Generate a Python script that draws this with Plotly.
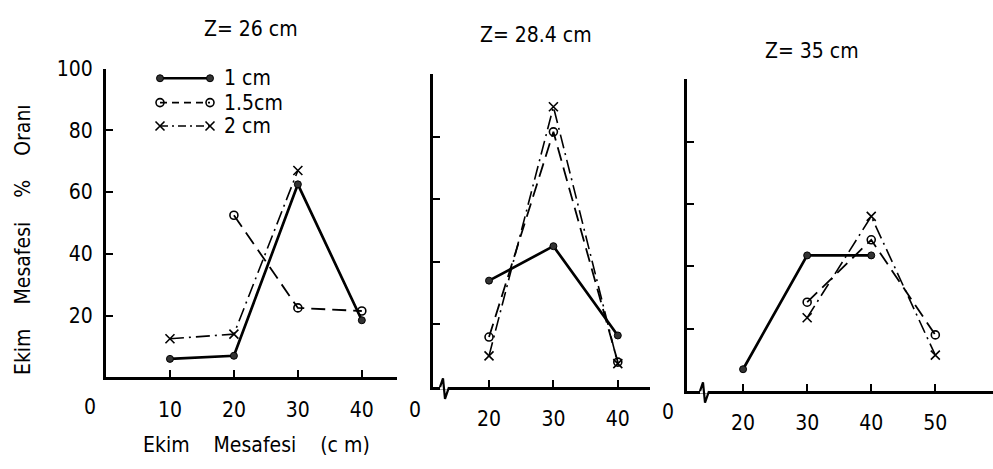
import plotly.graph_objects as go

FONT = "DejaVu Sans Condensed, DejaVu Sans, sans-serif"
W, H = 993, 469
FS = 21

titles = ["Z= 26 cm", "Z= 28.4 cm", "Z= 35 cm"]
series_names = ["1 cm", "1.5cm", "2 cm"]

p1_x_1cm = [10, 20, 30, 40]
p1_y_1cm = [6, 7, 62.5, 18.5]
p1_x_15cm = [20, 30, 40]
p1_y_15cm = [52.5, 22.5, 21.5]
p1_x_2cm = [10, 20, 30]
p1_y_2cm = [12.5, 14, 67]

p2_x_1cm = [20, 30, 40]
p2_y_1cm = [34, 45, 16.5]
p2_x_15cm = [20, 30, 40]
p2_y_15cm = [16, 81.5, 8]
p2_x_2cm = [20, 30, 40]
p2_y_2cm = [10, 89.5, 7.5]

p3_x_1cm = [20, 30, 40]
p3_y_1cm = [7, 43.5, 43.5]
p3_x_15cm = [30, 40, 50]
p3_y_15cm = [28.5, 48.5, 18]
p3_x_2cm = [30, 40, 50]
p3_y_2cm = [23.5, 56, 11.5]

p1_xticks = [10, 20, 30, 40]
p2_xticks = [20, 30, 40]
p3_xticks = [20, 30, 40, 50]
p1_yticks = [20, 40, 60, 80, 100]
p2_yticks = [20, 40, 60, 80]
p3_yticks = [20, 40, 60, 80, 100]

styles = [
    dict(line=dict(color="black", width=2.7, dash="solid"),
         marker=dict(symbol="circle", size=7, color="#333", line=dict(color="black", width=1))),
    dict(line=dict(color="black", width=1.8, dash="14px,7px"),
         marker=dict(symbol="circle-open", size=8, color="black", line=dict(color="black", width=1.6))),
    dict(line=dict(color="black", width=1.6, dash="14px,5px,2px,5px"),
         marker=dict(symbol="x-thin-open", size=9, color="black", line=dict(color="black", width=1.6))),
]
legend_dash = ["solid", "7px,5px", "8px,4px,2px,4px"]

panels = [
    ([(p1_x_1cm, p1_y_1cm), (p1_x_15cm, p1_y_15cm), (p1_x_2cm, p1_y_2cm)], "x", "y"),
    ([(p2_x_1cm, p2_y_1cm), (p2_x_15cm, p2_y_15cm), (p2_x_2cm, p2_y_2cm)], "x2", "y2"),
    ([(p3_x_1cm, p3_y_1cm), (p3_x_15cm, p3_y_15cm), (p3_x_2cm, p3_y_2cm)], "x3", "y3"),
]

fig = go.Figure()
for data, xa, ya in panels:
    for (xs, ys), st, nm in zip(data, styles, series_names):
        fig.add_trace(go.Scatter(x=xs, y=ys, mode="lines+markers", name=nm,
                                 xaxis=xa, yaxis=ya, showlegend=False,
                                 line=st["line"], marker=st["marker"], cliponaxis=False))

# legend samples drawn on a pixel overlay axis
leg_y = [68, 93, 117]
for st, nm, ly, ld in zip(styles, series_names, leg_y, legend_dash):
    fig.add_trace(go.Scatter(x=[160, 210], y=[ly, ly], mode="lines+markers",
                             xaxis="x4", yaxis="y4", showlegend=False,
                             line=dict(color="black", width=st["line"]["width"], dash=ld),
                             marker=st["marker"], cliponaxis=False))
    fig.add_annotation(x=222, y=ly, xref="x4", yref="y4", text=nm, showarrow=False,
                       xanchor="left", yanchor="middle", font=dict(family=FONT, size=FS, color="black"))


def px_x(p):
    return p / W


def px_y(p):
    return (H - p) / H


axis_common = dict(showline=True, linecolor="black", linewidth=3, ticks="inside",
                   ticklen=7, tickwidth=2, tickcolor="black", showgrid=False, zeroline=False,
                   tickfont=dict(family=FONT, size=FS, color="black"), mirror=False)

geo = [
    (106, 397, [0, 45.5], 375, 58, p1_xticks, p1_yticks, True),
    (433, 650, [11.3, 45], 385, 63.5, p2_xticks, p2_yticks, False),
    (687, 993, [11.25, 59], 389, 69, p3_xticks, p3_yticks, False),
]
names = [("xaxis", "yaxis"), ("xaxis2", "yaxis2"), ("xaxis3", "yaxis3")]
anchors = [("y", "x"), ("y2", "x2"), ("y3", "x3")]
layout = {}
for (xl, xr, xrng, yb, yt, xt, yt_vals, showylab), (xn, yn), (xa_anchor, ya_anchor) in zip(geo, names, anchors):
    layout[xn] = dict(axis_common, domain=[px_x(xl), px_x(xr)], range=xrng, anchor=xa_anchor,
                      tickvals=xt, ticklabelstandoff=11)
    layout[yn] = dict(axis_common, domain=[px_y(yb), px_y(yt)], range=[0, 100], anchor=ya_anchor,
                      tickvals=yt_vals, showticklabels=showylab, ticklabelstandoff=6)

layout["xaxis4"] = dict(domain=[0, 1], range=[0, W], visible=False, anchor="y4")
layout["yaxis4"] = dict(domain=[0, 1], range=[H, 0], visible=False, anchor="x4")

fig.update_layout(**layout)
fig.update_layout(width=W, height=H, margin=dict(l=0, r=0, t=0, b=0),
                  paper_bgcolor="white", plot_bgcolor="rgba(0,0,0,0)", showlegend=False)

# panel titles
title_pos = [(251, 17), (536, 24), (812, 40)]
for t, (tx, ty) in zip(titles, title_pos):
    fig.add_annotation(x=px_x(tx), y=px_y(ty), xref="paper", yref="paper", text=t, showarrow=False,
                       xanchor="center", yanchor="middle", font=dict(family=FONT, size=FS, color="black"))

# origin "0" labels
for ox, oy in [(90, 405), (415, 408), (668, 410)]:
    fig.add_annotation(x=px_x(ox), y=px_y(oy), xref="paper", yref="paper", text="0", showarrow=False,
                       xanchor="center", yanchor="middle", font=dict(family=FONT, size=FS, color="black"))

# axis titles
nb = "\u00a0\u00a0\u00a0"
nb4 = "\u00a0\u00a0\u00a0\u00a0"
fig.add_annotation(x=px_x(23), y=px_y(234), xref="paper", yref="paper",
                   text=f"Ekim{nb4}Mesafesi{nb4}%{nb4}Oranı", textangle=-90, showarrow=False,
                   xanchor="center", yanchor="middle", font=dict(family=FONT, size=FS, color="black"))
fig.add_annotation(x=px_x(256), y=px_y(444), xref="paper", yref="paper",
                   text=f"Ekim{nb4}Mesafesi{nb4}(c\u00a0m)", showarrow=False,
                   xanchor="center", yanchor="middle", font=dict(family=FONT, size=FS, color="black"))

# axis break symbols on panels 2 and 3
for bx, by in [(440, 385), (700, 389)]:
    fig.add_shape(type="line", xref="paper", yref="paper", x0=px_x(bx), x1=px_x(bx + 9),
                  y0=px_y(by), y1=px_y(by), line=dict(color="white", width=5))
    path = (f"M {px_x(bx)},{px_y(by)} L {px_x(bx + 3)},{px_y(by - 9)} "
            f"L {px_x(bx + 5)},{px_y(by + 12)} L {px_x(bx + 9)},{px_y(by)}")
    fig.add_shape(type="path", xref="paper", yref="paper", path=path,
                  line=dict(color="black", width=2.2))

fig.write_html("out.html")
